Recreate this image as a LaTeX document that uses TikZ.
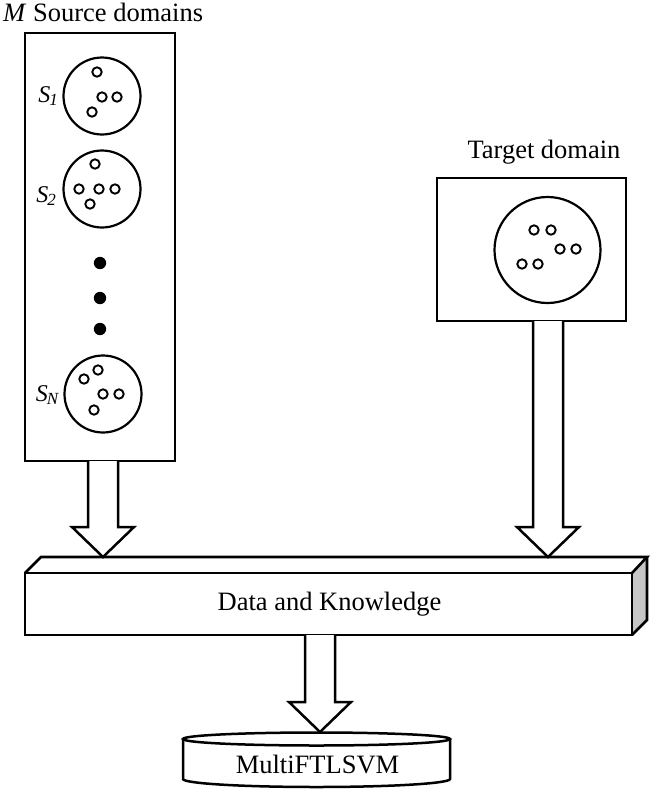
\documentclass[tikz,border=0pt]{standalone}
\usepackage{fontspec}
\setmainfont{Liberation Serif}
\usetikzlibrary{calc}
\newcommand{\blockarr}[3]{%
  \draw[blk] (#1-15,#2) -- (#1-15,#3-30) -- (#1-31,#3-30) -- (#1,#3) -- (#1+31,#3-30) -- (#1+15,#3-30) -- (#1+15,#2);}
\newcommand{\slbl}[2]{{\fontsize{24}{26}\selectfont\itshape #1\kern-1pt\raisebox{-3.5pt}{\fontsize{17}{19}\selectfont #2}}}
\begin{document}
\begin{tikzpicture}[x=1pt,y=-1pt,
  line join=miter,
  box/.style={draw,line width=2.6pt,inner sep=0pt},
  dom/.style={circle,draw,line width=2.2pt,inner sep=0pt},
  pt/.style={draw,line width=1.9pt},
  blk/.style={draw,line width=2.5pt,fill=white},
  lab/.style={font=\fontsize{26.5}{30}\selectfont,inner sep=0pt}]
\useasboundingbox (0,0) rectangle (658,793);
% source box
\node[lab,anchor=base west] (mtitle) at (3,21) {\textit{M} Source domains};
\node[box,minimum width=150pt,minimum height=428pt] (src) at (100,247) {};
\node[dom,minimum size=77pt] (s1) at (102,96) {};
\node[dom,minimum size=77pt] (s2) at (102,189) {};
\node[dom,minimum size=77pt] (sn) at (103,394) {};
\node[inner sep=0pt] (l1) at (48,96) {\slbl{S}{1}};
\node[inner sep=0pt] (l2) at (46,196) {\slbl{S}{2}};
\node[inner sep=0pt] (ln) at (47,395) {\slbl{S}{N}};
\foreach \p in {(97,72),(102,97),(117,97),(92,112)} \draw[pt] \p circle (4.7pt);
\foreach \p in {(95,164),(79,189),(99,189),(115,189),(90,204)} \draw[pt] \p circle (4.7pt);
\foreach \p in {(98,370),(84,379),(103,394),(119,394),(94,410)} \draw[pt] \p circle (4.7pt);
\foreach \y in {263,298,329} \fill (100,\y) circle (6.2pt);
% target box
\node[lab] (ttitle) at (544,152) {Target domain};
\node[box,minimum width=189pt,minimum height=143pt] (tgt) at (531.5,249.5) {};
\node[dom,minimum size=106pt] (tc) at (547.5,250) {};
\foreach \p in {(534,230),(551,230),(560,249),(576,249),(522,264),(538,264)} \draw[pt] \p circle (4.7pt);
% data and knowledge slab
\fill[gray!45] (632,573) -- (647,557) -- (647,620) -- (632,635) -- cycle;
\draw[line width=2.6pt] (25,573) -- (41,557) -- (647,557) -- (632,573);
\draw[line width=2.6pt] (632,635) -- (647,620) -- (647,557);
\node[box,minimum width=607pt,minimum height=62pt] (dk) at (328.5,604) {};
\node[lab] (dkt) at (329.5,604) {Data and Knowledge};
% arrows
\blockarr{103}{461}{557}
\blockarr{548}{321}{557}
\blockarr{320}{635}{732}
% cylinder
\draw[line width=2.5pt,fill=white] (183,739) -- (183,779) arc[start angle=180,end angle=360,x radius=133.5pt,y radius=8pt] -- (450,739);
\draw[line width=2.5pt,fill=white] (316.5,739) ellipse[x radius=133.5pt,y radius=6.5pt];
\node[lab] (mf) at (317.5,764) {MultiFTLSVM};
\end{tikzpicture}
\end{document}
